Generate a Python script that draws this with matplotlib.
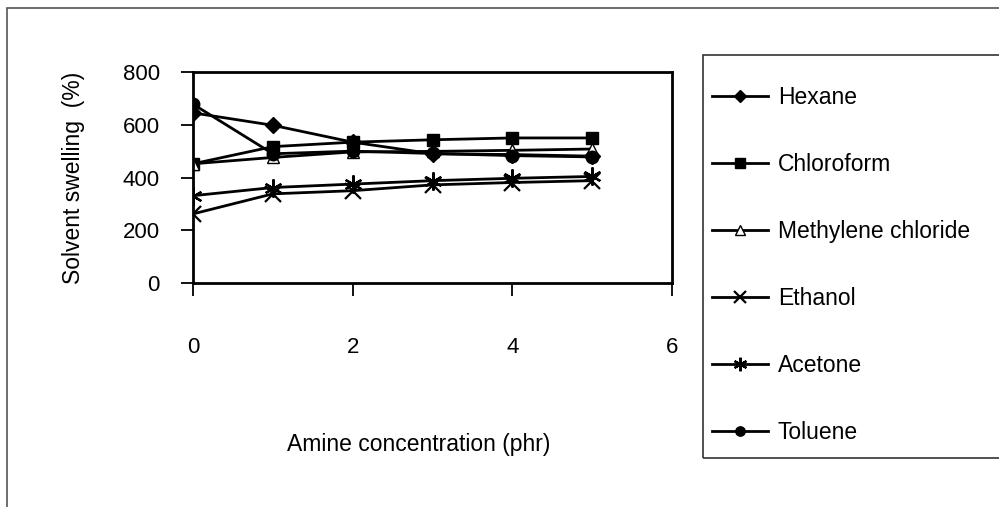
import numpy as np
import matplotlib
matplotlib.use("Agg")
import matplotlib.pyplot as plt
from matplotlib.patches import Rectangle

plt.rcParams['font.family'] = ['Liberation Sans', 'DejaVu Sans']

# amine concentration (phr)
conc = [0, 1, 2, 3, 4, 5]

# solvent swelling (%)
hexane = [645, 598, 534, 490, 487, 481]
chloroform = [452, 517, 534, 543, 550, 550]
methylene_chloride = [452, 476, 497, 499, 503, 508]
ethanol = [262, 338, 350, 372, 381, 388]
acetone = [331, 362, 375, 388, 397, 404]
toluene = [678, 490, 500, 491, 483, 478]

labels = ["Hexane", "Chloroform", "Methylene chloride", "Ethanol", "Acetone", "Toluene"]
series = [hexane, chloroform, methylene_chloride, ethanol, acetone, toluene]

x_ticks = [0, 2, 4, 6]
y_ticks = [0, 200, 400, 600, 800]

# marker style per series
styles = [
    dict(marker='D', ms=8, mfc='black'),
    dict(marker='s', ms=9, mfc='black'),
    dict(marker='^', ms=9, mfc='white'),
    dict(marker='x', ms=11, mew=1.6),
    dict(marker=(6, 2, 0), ms=13, mew=1.6),
    dict(marker='o', ms=9, mfc='black'),
]

fig = plt.figure(figsize=(9.99, 5.07), dpi=100)
ax = fig.add_axes([193/999, 1 - 283/507, 479/999, 211/507])

handles = []
for vals, lab, st in zip(series, labels, styles):
    h, = ax.plot(conc, vals, color='black', lw=2, mec='black', label=lab, **st)
    handles.append(h)

ax.set_xlim(0, 6)
ax.set_ylim(0, 800)
ax.set_xticks(x_ticks)
ax.set_yticks(y_ticks)
ax.tick_params(direction='out', length=9, width=1.3, labelsize=16, color='black')
ax.tick_params(axis='x', pad=30)
ax.tick_params(axis='y', pad=15)
for sp in ax.spines.values():
    sp.set_linewidth(2)
    sp.set_color('black')

ax.set_ylabel("Solvent swelling  (%)", fontsize=16.5, labelpad=27)
fig.text(419/999, 1 - 445/507, "Amine concentration (phr)", fontsize=16.5,
         ha='center', va='center')

# outer chart frame
fig.patches.append(Rectangle((7/999, -0.1), 1.2, 1 - 8/507 + 0.1,
                             transform=fig.transFigure, fill=False,
                             edgecolor='#555555', lw=1.2))
# legend frame
fig.patches.append(Rectangle((703/999, 1 - 458/507), 0.4, (458 - 55)/507,
                             transform=fig.transFigure, fill=False,
                             edgecolor='#333333', lw=1.2))

fig.legend(handles=handles, loc='upper left', bbox_to_anchor=(712/999, 1 - 86/507),
           frameon=False, fontsize=16.5, labelspacing=1.92, handlelength=2.45,
           handletextpad=0.42, borderaxespad=0, borderpad=0, markerscale=0.75)

fig.savefig("out.png", dpi=100)
